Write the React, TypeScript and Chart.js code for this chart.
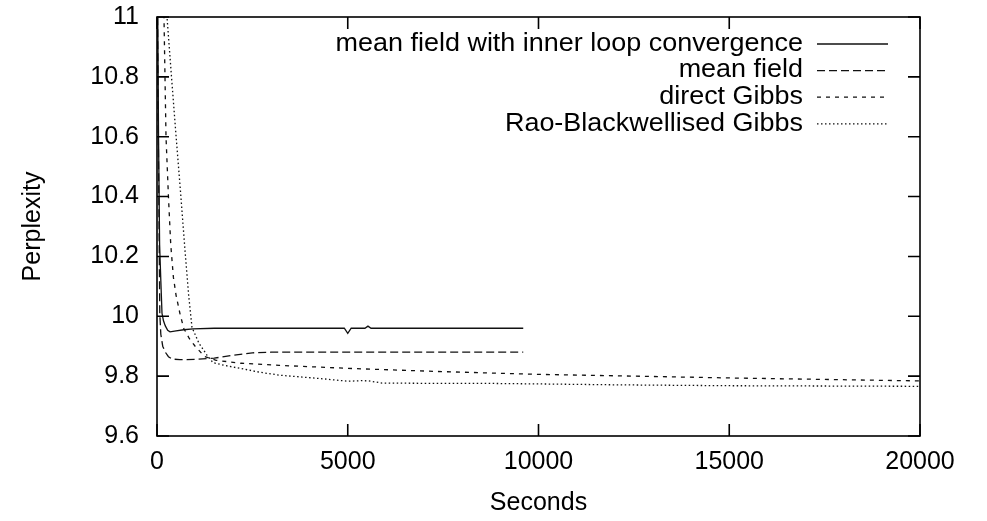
import React, { useEffect, useRef } from "react";
import { Chart, registerables } from "chart.js";

Chart.register(...registerables);

// ---- data (seconds, perplexity) ----
const innerLoopT = [0, 15, 40, 68, 100, 131, 170, 218, 280, 341, 500, 700, 944, 1500, 2500, 4000, 4910, 5000, 5090, 5450, 5530, 5610, 7000, 9600];
const innerLoopY = [11.8, 11.1, 10.6, 10.24, 10.12, 10.01, 9.985, 9.968, 9.953, 9.948, 9.951, 9.955, 9.958, 9.96, 9.96, 9.96, 9.96, 9.943, 9.96, 9.96, 9.967, 9.96, 9.96, 9.96];

const meanFieldT = [0, 15, 35, 73, 100, 150, 218, 300, 400, 600, 1000, 1500, 2000, 2500, 3000, 9600];
const meanFieldY = [11.4, 11.0, 10.6, 10.01, 9.94, 9.9, 9.88, 9.865, 9.857, 9.855, 9.856, 9.86, 9.87, 9.878, 9.88, 9.88];

const directGibbsT = [130, 183, 236, 300, 360, 430, 500, 600, 700, 850, 1000, 1250, 1550, 2200, 3200, 4300, 5000, 7500, 10000, 12500, 15000, 17500, 20000];
const directGibbsY = [11.4, 11.0, 10.6, 10.4, 10.24, 10.13, 10.07, 10.01, 9.96, 9.925, 9.9, 9.865, 9.853, 9.843, 9.836, 9.83, 9.826, 9.815, 9.806, 9.8, 9.794, 9.789, 9.784];

const raoBlackT = [180, 262, 380, 498, 620, 734, 830, 917, 1100, 1310, 1470, 1800, 2175, 2700, 3224, 3800, 4273, 5000, 5400, 5550, 5900, 7000, 8500, 10000, 12000, 15000, 17500, 20000];
const raoBlackY = [11.18, 11.0, 10.8, 10.605, 10.41, 10.22, 10.07, 9.963, 9.91, 9.87, 9.845, 9.835, 9.826, 9.813, 9.803, 9.797, 9.792, 9.783, 9.785, 9.784, 9.777, 9.776, 9.776, 9.774, 9.771, 9.768, 9.767, 9.766];

const seriesLabels = [
  "mean field with inner loop convergence",
  "mean field",
  "direct Gibbs",
  "Rao-Blackwellised Gibbs",
];

const yTicks = [9.6, 9.8, 10, 10.2, 10.4, 10.6, 10.8, 11];
const xTicks = [0, 5000, 10000, 15000, 20000];

const FONT = "'Liberation Sans', Arial, Helvetica, sans-serif";

const zip = (t: number[], y: number[]) => t.map((x, i) => ({ x, y: y[i] }));

const frameAndLegend = {
  id: "frameAndLegend",
  afterDraw(chart: any) {
    const { ctx, chartArea } = chart;
    const { left, right, top, bottom } = chartArea;
    const xs = chart.scales.x;
    const ys = chart.scales.y;
    const tl = 12;
    ctx.save();
    ctx.strokeStyle = "#000";
    ctx.lineWidth = 1.6;
    ctx.setLineDash([]);
    ctx.strokeRect(left, top, right - left, bottom - top);
    ctx.beginPath();
    yTicks.forEach((v) => {
      const p = ys.getPixelForValue(v);
      ctx.moveTo(left, p);
      ctx.lineTo(left + tl, p);
      ctx.moveTo(right, p);
      ctx.lineTo(right - tl, p);
    });
    xTicks.forEach((v) => {
      const p = xs.getPixelForValue(v);
      ctx.moveTo(p, bottom);
      ctx.lineTo(p, bottom - tl);
      ctx.moveTo(p, top);
      ctx.lineTo(p, top + tl);
    });
    ctx.stroke();

    // gnuplot-style key
    ctx.font = `25px ${FONT}`;
    ctx.fillStyle = "#000";
    ctx.textAlign = "right";
    ctx.textBaseline = "middle";
    chart.data.datasets.forEach((ds: any, i: number) => {
      const yy = top + 27 + i * 26.6;
      ctx.save();
      ctx.translate(right - 117, yy);
      ctx.scale(1.078, 1);
      ctx.fillText(ds.label, 0, 0);
      ctx.restore();
      ctx.beginPath();
      ctx.lineWidth = ds.borderWidth;
      ctx.strokeStyle = ds.borderColor;
      ctx.setLineDash(ds.borderDash || []);
      ctx.moveTo(right - 103, yy);
      ctx.lineTo(right - 32, yy);
      ctx.stroke();
    });
    ctx.restore();
  },
};

export default function App() {
  const ref = useRef<HTMLCanvasElement | null>(null);
  useEffect(() => {
    document.body.style.margin = "0";
    const mk = (label: string, t: number[], y: number[], dash: number[]) => ({
      label,
      data: zip(t, y),
      showLine: true,
      borderColor: "#111",
      borderWidth: 1.3,
      borderDash: dash,
      pointRadius: 0,
      tension: 0,
      fill: false,
    });
    const chart = new Chart(ref.current as HTMLCanvasElement, {
      type: "scatter",
      data: {
        datasets: [
          mk(seriesLabels[0], innerLoopT, innerLoopY, []),
          mk(seriesLabels[1], meanFieldT, meanFieldY, [8, 4]),
          mk(seriesLabels[2], directGibbsT, directGibbsY, [4, 5]),
          mk(seriesLabels[3], raoBlackT, raoBlackY, [1.5, 2.5]),
        ],
      },
      options: {
        animation: false,
        responsive: true,
        maintainAspectRatio: false,
        layout: { padding: { left: 0, top: 17, right: 67, bottom: 0 } },
        plugins: { legend: { display: false }, tooltip: { enabled: false } },
        scales: {
          x: {
            type: "linear",
            min: 0,
            max: 20000,
            afterFit: (s: any) => {
              s.height = 85;
              s.paddingLeft = 0;
              s.paddingRight = 0;
            },
            afterBuildTicks: (s: any) => {
              s.ticks = xTicks.map((v) => ({ value: v }));
            },
            grid: { display: false, drawTicks: false },
            border: { display: false },
            ticks: {
              color: "#000",
              font: { family: FONT, size: 25 },
              padding: 11,
              maxRotation: 0,
              callback: (v: any) => String(v),
            },
            title: {
              display: true,
              text: "Seconds",
              color: "#000",
              font: { family: FONT, size: 25 },
              padding: { top: 0, bottom: 3 },
            },
          },
          y: {
            type: "linear",
            min: 9.6,
            max: 11,
            afterFit: (s: any) => {
              s.width = 157;
              s.paddingTop = 0;
              s.paddingBottom = 0;
            },
            afterBuildTicks: (s: any) => {
              s.ticks = yTicks.map((v) => ({ value: v }));
            },
            grid: { display: false, drawTicks: false },
            border: { display: false },
            ticks: {
              color: "#000",
              font: { family: FONT, size: 25 },
              padding: 18,
              callback: (v: any) => String(+Number(v).toFixed(1)),
            },
            title: {
              display: true,
              text: "Perplexity",
              color: "#000",
              font: { family: FONT, size: 25 },
              padding: { top: 18, bottom: 0 },
            },
          },
        },
      },
      plugins: [frameAndLegend],
    });
    return () => chart.destroy();
  }, []);
  return (
    <div style={{ position: "absolute", left: 0, top: 0, width: 987, height: 521 }}>
      <canvas ref={ref} />
    </div>
  );
}
